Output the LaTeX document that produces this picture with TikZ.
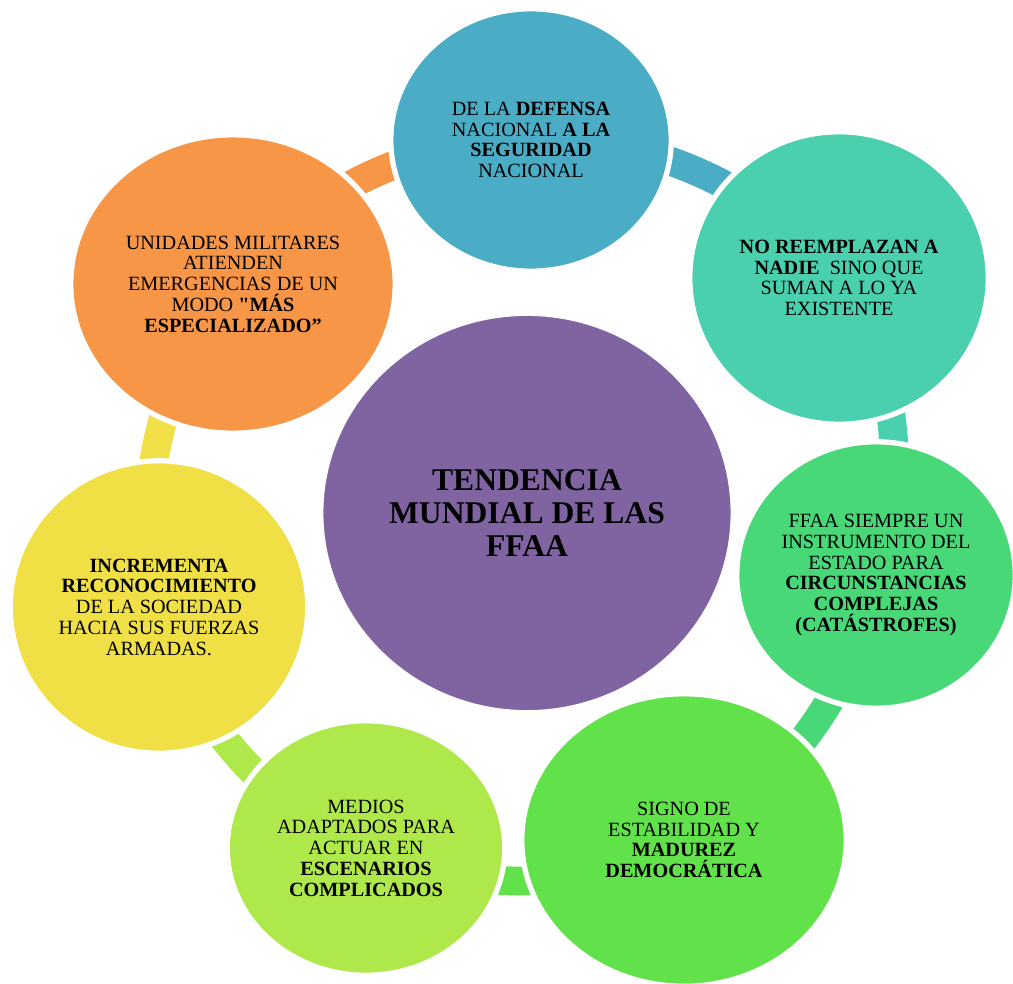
\documentclass[tikz,border=0pt]{standalone}
\usepackage{fontspec}
\setmainfont{Liberation Serif}
\newfontfamily\rawserif{Liberation Serif}
\usetikzlibrary{shapes.geometric,backgrounds}
\definecolor{cten}{HTML}{8064A2}
\definecolor{cdef}{HTML}{4BACC6}
\definecolor{cnor}{HTML}{4ACFAF}
\definecolor{cffa}{HTML}{48D878}
\definecolor{csig}{HTML}{62E24A}
\definecolor{cmed}{HTML}{AEE84A}
\definecolor{cinc}{HTML}{F0E046}
\definecolor{cuni}{HTML}{F79646}

\begin{document}
\begin{tikzpicture}[x=0.02cm,y=-0.02cm,
  bubble/.style={ellipse,inner sep=0pt,draw=white,line width=3pt,align=center,font=\fontsize{11.5}{11.8}\selectfont},
  link/.style={line width=16.4pt,looseness=0.9}]
\useasboundingbox (0,0) rectangle (1013,983);
 \node[bubble,fill=cten,minimum width=8.25cm,minimum height=7.99cm,font=\fontsize{18}{18.7}\selectfont\bfseries] (tend) at (527,513) {TENDENCIA\\ MUNDIAL DE LAS\\ FFAA};
  \node[bubble,fill=cdef,minimum width=5.61cm,minimum height=5.25cm] (def) at (531,140) {DE LA \textbf{DEFENSA}\\ NACIONAL \textbf{A LA}\\ \textbf{SEGURIDAD}\\ NACIONAL};
  \node[bubble,fill=cnor,minimum width=5.97cm,minimum height=5.85cm] (nor) at (839,278) {\textbf{NO REEMPLAZAN A}\\ \textbf{NADIE}~ SINO QUE\\ SUMAN A LO YA\\ EXISTENTE};
  \node[bubble,fill=cffa,minimum width=5.57cm,minimum height=5.33cm] (ffa) at (876,575) {FFAA SIEMPRE UN\\ INSTRUMENTO DEL\\ ESTADO PARA\\ \textbf{CIRCUNSTANCIAS}\\ \textbf{COMPLEJAS}\\ \textbf{(CATÁSTROFES)}};
  \node[bubble,fill=csig,minimum width=6.49cm,minimum height=5.85cm] (sig) at (684,840) {SIGNO DE\\ ESTABILIDAD Y\\ \textbf{MADUREZ}\\ \textbf{DEMOCRÁTICA}};
  \node[bubble,fill=cmed,minimum width=5.55cm,minimum height=5.09cm] (med) at (366,848) {MEDIOS\\ ADAPTADOS PARA\\ ACTUAR EN\\ \textbf{ESCENARIOS}\\ \textbf{COMPLICADOS}};
  \node[bubble,fill=cinc,minimum width=5.95cm,minimum height=5.85cm] (inc) at (159,607) {\textbf{INCREMENTA}\\ \textbf{RECONOCIMIENTO}\\ DE LA SOCIEDAD\\ HACIA SUS FUERZAS\\ ARMADAS.};
  \node[bubble,fill=cuni,minimum width=6.49cm,minimum height=5.97cm] (uni) at (233,284) {UNIDADES MILITARES\\ ATIENDEN\\ EMERGENCIAS DE UN\\ MODO \textbf{{\rawserif"}MÁS}\\ \textbf{ESPECIALIZADO”}};
% ring bars, drawn behind the bubbles
\begin{scope}[on background layer]
\draw[link,cdef] (def.center) to[bend left=26] (nor.center);
\draw[link,cnor] (nor.center) to[bend left=26] (ffa.center);
\draw[link,cffa] (ffa.center) to[bend left=26] (sig.center);
\draw[link,csig] (sig.center) to[bend left=26] (med.center);
\draw[link,cmed] (med.center) to[bend left=26] (inc.center);
\draw[link,cinc] (inc.center) to[bend left=26] (uni.center);
\draw[link,cuni] (uni.center) to[bend left=26] (def.center);
\end{scope}
 \end{tikzpicture}
\end{document}
